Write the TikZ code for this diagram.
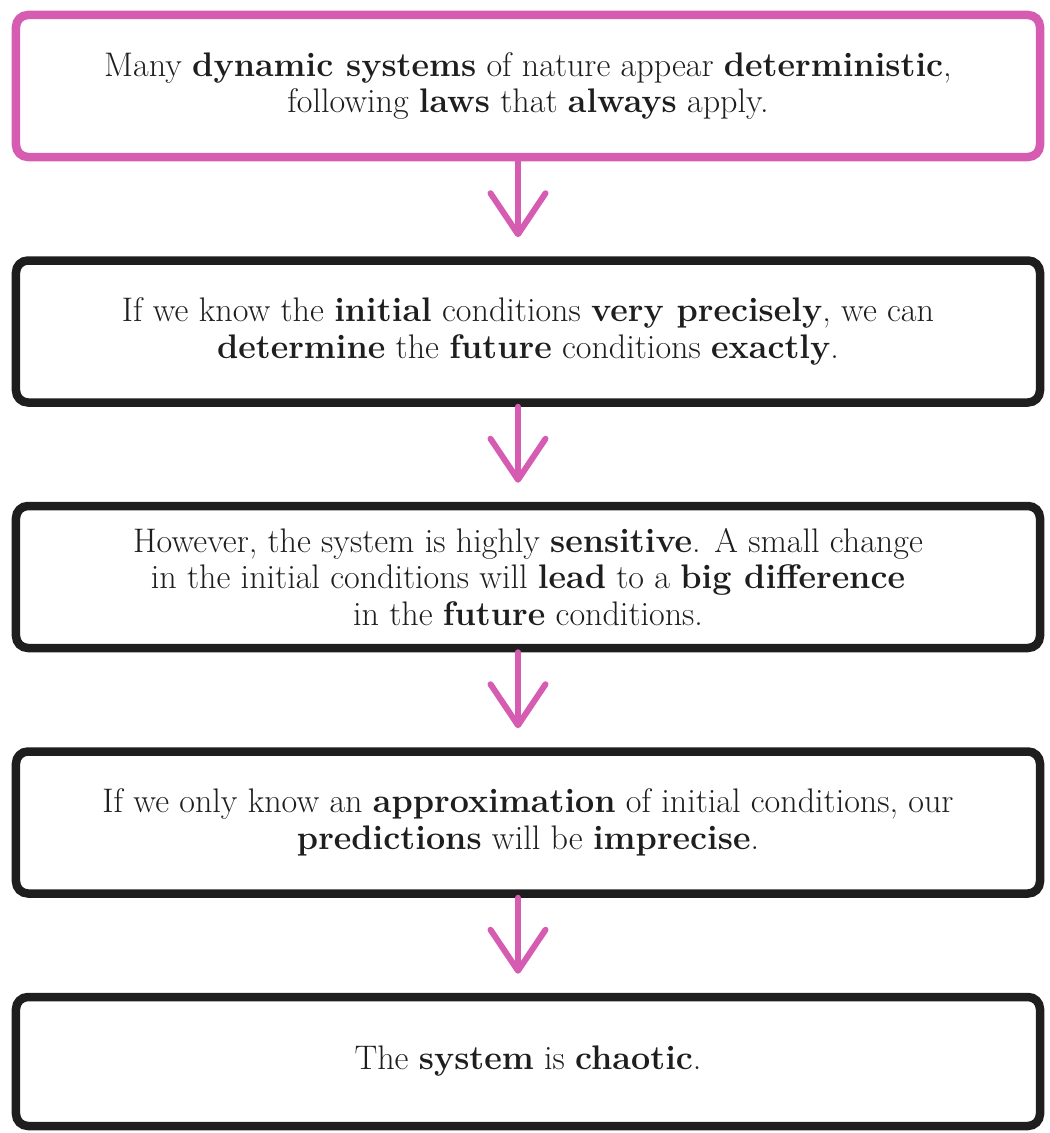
\documentclass[tikz,border=0pt]{standalone}
\usepackage{xcolor}
\usepackage{tikz}
\usetikzlibrary{arrows.meta,positioning,calc}

\definecolor{chaospink}{RGB}{214,92,178}
\definecolor{chaosink}{RGB}{30,30,30}

\begin{document}
\begin{tikzpicture}[
  node distance=1.9cm,
  box/.style={rectangle, draw=chaosink, line width=0.17cm, rounded corners=0.24cm, minimum width=20.48cm, minimum height=2.84cm, align=center, font=\fontsize{19.4}{20.8}\selectfont, text=chaosink},
  firstbox/.style={box, draw=chaospink},
  arrow/.style={-{Straight Barb[length=0.82cm, width=1.1cm, line cap=round, line join=round]}, line width=0.12cm, draw=chaospink, line cap=round, shorten >=0.38cm}
]
  \useasboundingbox (0,0) rectangle (20.98,-22.66);
  \node[firstbox] (nature) at (10.56,-1.72) {Many \textbf{dynamic systems} of nature appear \textbf{deterministic},\\following \textbf{laws} that \textbf{always} apply.};
  \node[box, below=of nature] (initial) {If we know the \textbf{initial} conditions \textbf{very precisely}, we can\\\textbf{determine} the \textbf{future} conditions \textbf{exactly}.};
  \node[box, below=of initial] (sensitive) {However, the system is highly \textbf{sensitive}. A small change\\in the initial conditions will \textbf{lead} to a \textbf{big difference}\\in the \textbf{future} conditions.};
  \node[box, below=of sensitive] (approx) {If we only know an \textbf{approximation} of initial conditions, our\\\textbf{predictions} will be \textbf{imprecise}.};
  \node[box, minimum height=2.58cm, below=of approx] (chaotic) {The \textbf{system} is \textbf{chaotic}.};
  \draw[arrow] ($(nature.south)+(-0.2,0)$) -- ($(initial.north)+(-0.2,0)$);
  \draw[arrow] ($(initial.south)+(-0.2,0)$) -- ($(sensitive.north)+(-0.2,0)$);
  \draw[arrow] ($(sensitive.south)+(-0.2,0)$) -- ($(approx.north)+(-0.2,0)$);
  \draw[arrow] ($(approx.south)+(-0.2,0)$) -- ($(chaotic.north)+(-0.2,0)$);
\end{tikzpicture}
\end{document}
